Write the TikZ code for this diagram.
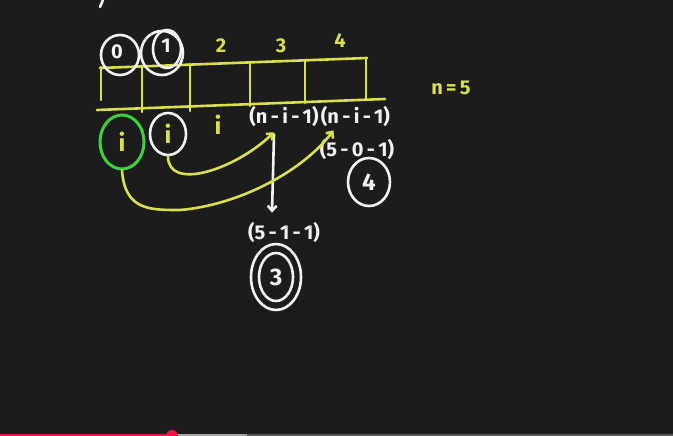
\documentclass[tikz,border=0pt]{standalone}
\usepackage{fontspec}
\setmainfont{Fira Sans}
\usetikzlibrary{shapes.geometric,arrows.meta,positioning,calc}
\definecolor{board}{HTML}{1C1C1C}
\definecolor{chalk}{HTML}{F2F2F2}
\definecolor{marker}{HTML}{D9E04C}
\definecolor{lime}{HTML}{3CD23C}
\definecolor{seek}{HTML}{F0144A}

\begin{document}
\begin{tikzpicture}[x=1pt,y=-1pt,
      wline/.style={draw=chalk, line width=2.6pt, line cap=round, line join=round},
      yline/.style={draw=marker, line width=2.6pt, line cap=round, line join=round},
      wlbl/.style={text=chalk, font=\bfseries\fontsize{20}{22}\selectfont, inner sep=1pt},
      ylbl/.style={wlbl, text=marker},
      big/.style={font=\bfseries\fontsize{24}{26}\selectfont},
      ring/.style={ellipse, wline, inner sep=0pt},
      arr/.style={-{Straight Barb[length=5pt,width=9pt]}}
    ]
      \useasboundingbox (0,0) rectangle (673,436);
      \fill[board] (0,0) rectangle (673,436);
      \draw[wline] (103,0) -- (100,7);
      % array of five cells
      \draw[yline] (100,68) -- (367,58);
      \draw[yline] (97,110) -- (385,99);
      \foreach \x/\t/\b in {101/67/100, 142/66/112, 190/64/111, 250/62/106, 305/60/103, 366/58/99}
        \draw[yline] (\x,\t) -- (\x,\b);
      % indices
      \node[wlbl] (idx0) at (117,52) {0};
      \node[wlbl] (idx1) at (166,46) {1};
      \node[ylbl] (idx2) at (221,46) {2};
      \node[ylbl] (idx3) at (281,46) {3};
      \node[ylbl] (idx4) at (340,41) {4};
      \draw[wline] (120,55) ellipse [x radius=19, y radius=20];
      \draw[wline] (167,49) ellipse [x radius=14, y radius=19];
      \draw[wline] (162,53) ellipse [x radius=21, y radius=22];
      \node[ylbl] (nval) at (451,88) {n\,=\,5};
      % pointers below the array
      \node[ellipse, draw=lime, line width=3pt, minimum width=44pt, minimum height=54pt, ylbl, big] (gi) at (122,142) {i};
      \node[ring, minimum width=36pt, minimum height=42pt, ylbl, big] (wi) at (168,134) {i};
      \node[ylbl, big] (yi) at (218,125) {i};
      \node[wlbl] (nia) at (284,117) {(n\,-\,i\,-\,1)};
      \node[wlbl, right=0pt of nia] (nib) {(n\,-\,i\,-\,1)};
      \node[wlbl] (sub0) at (357,150) {(5\,-\,0\,-\,1)};
      \node[ring, minimum width=42pt, minimum height=48pt, wlbl, big] (four) at (369,182) {4};
      \node[wlbl] (sub1) at (284,232) {(5\,-\,1\,-\,1)};
      \node[ring, minimum width=34pt, minimum height=48pt, wlbl, big] (three) at (276,277) {3};
      \draw[wline] (three) ellipse [x radius=25, y radius=33];
      % connectors
      \draw[wline, arr] (nia.south) ++(-10,6) -- ($(sub1.north)+(-12,-8)$);
      \draw[yline, arr] (wi.south) .. controls +(0,35) and +(-40,38) .. ($(nia.south)+(-10,4)$);
      \draw[yline, arr] (gi.south) .. controls +(3,40) and +(-30,0) .. (180,210)
        .. controls +(60,-5) and +(-30,40) .. ($(nib.south)+(-22,2)$);
      % player bar
      \draw[line width=1.5pt, draw=black!65] (0,435) -- (673,435);
      \draw[line width=1.5pt, draw=black!35] (0,435) -- (247,435);
      \draw[line width=1.5pt, draw=seek] (0,435) -- (172,435);
      \fill[seek] (172,436) circle (6);
    \end{tikzpicture}
\end{document}
